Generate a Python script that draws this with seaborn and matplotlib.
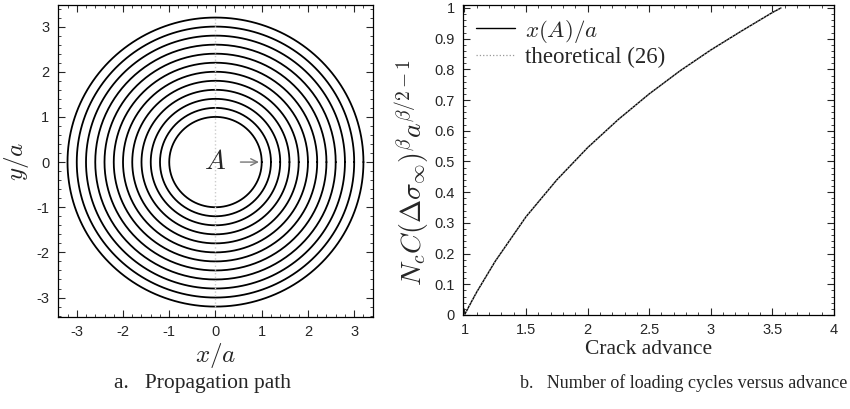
import numpy as np
import pandas as pd
import seaborn as sns
import matplotlib.pyplot as plt
from matplotlib.ticker import MultipleLocator

# crack front radii (panel a)
radii = [1.0, 1.2, 1.4, 1.6, 1.8, 2.0, 2.2, 2.4, 2.6, 2.8, 3.0, 3.2]

# cycles vs crack advance (panel b)
advance = [1.0, 1.05, 1.1, 1.25, 1.5, 1.75, 2.0, 2.25, 2.5, 2.75, 3.0, 3.25, 3.5, 3.57]
cycles = [0.0, 0.038, 0.075, 0.175, 0.32, 0.44, 0.545, 0.637, 0.72, 0.795, 0.863, 0.925, 0.985, 1.0]
theory = [0.0, 0.038, 0.075, 0.175, 0.32, 0.44, 0.545, 0.637, 0.72, 0.795, 0.863, 0.925, 0.985, 1.0]

sns.set_theme(style="ticks")
plt.rcParams['font.family'] = ['Liberation Sans', 'DejaVu Sans']
plt.rcParams['mathtext.fontset'] = 'cm'
plt.rcParams['axes.unicode_minus'] = False
plt.rcParams['xtick.direction'] = 'in'
plt.rcParams['ytick.direction'] = 'in'

fig = plt.figure(figsize=(8.5, 4.09), dpi=100)
ax1 = fig.add_axes([0.068, 0.225, 0.371, 0.763])
ax2 = fig.add_axes([0.545, 0.230, 0.436, 0.758])

# panel a: concentric crack fronts
theta = np.linspace(0, 2 * np.pi, 361)
rows = []
for r in radii:
    for t in theta:
        rows.append((r, r * np.cos(t), r * np.sin(t)))
circles = pd.DataFrame(rows, columns=['r', 'x', 'y'])
sns.lineplot(data=circles, x='x', y='y', units='r', estimator=None, sort=False,
             color='black', lw=1.3, ax=ax1)
ax1.plot([0, 0], [-radii[-1], radii[-1]], ls=':', color='#cccccc', lw=1)
ax1.text(0.0, 0, '$A$', fontsize=20, ha='center', va='center')
ax1.annotate('', xy=(1.0, 0), xytext=(0.48, 0),
             arrowprops=dict(arrowstyle='->', color='#777777', lw=1))
ax1.set_xlim(-3.41, 3.41)
ax1.set_ylim(-3.43, 3.48)
ax1.xaxis.set_major_locator(MultipleLocator(1))
ax1.yaxis.set_major_locator(MultipleLocator(1))
ax1.xaxis.set_minor_locator(MultipleLocator(0.2))
ax1.yaxis.set_minor_locator(MultipleLocator(0.2))
ax1.set_xlabel('$x/a$', fontsize=18, labelpad=1)
ax1.set_ylabel('$y/a$', fontsize=18, labelpad=4)

# panel b: number of cycles
sns.lineplot(x=advance, y=cycles, color='black', lw=1, ax=ax2, label='$x(A)/a$')
sns.lineplot(x=advance, y=theory, color='#999999', lw=0.9, ls=':', ax=ax2,
             label='theoretical (26)')
ax2.set_xlim(0.99, 4.0)
ax2.set_ylim(0, 1.01)
ax2.xaxis.set_minor_locator(MultipleLocator(0.1))
ax2.yaxis.set_minor_locator(MultipleLocator(0.02))
ax2.set_xticks([1, 1.5, 2, 2.5, 3, 3.5, 4])
ax2.set_xticklabels(['1', '1.5', '2', '2.5', '3', '3.5', '4'])
ax2.set_yticks(np.round(np.arange(0, 1.01, 0.1), 1))
ax2.set_yticklabels(['0', '0.1', '0.2', '0.3', '0.4', '0.5', '0.6', '0.7', '0.8', '0.9', '1'])
ax2.set_xlabel('Crack advance', fontsize=15.5, family=['Liberation Serif'], labelpad=2)
ax2.set_ylabel(r'$N_c C(\Delta\sigma_\infty)^\beta a^{\beta/2-1}$', fontsize=20)
ax2.yaxis.set_label_coords(-0.083, 0.46)
leg = ax2.legend(loc='upper left', frameon=False, handlelength=1.7,
                 borderaxespad=0.15, handletextpad=0.45, labelspacing=0.1,
                 prop={'family': ['Liberation Serif'], 'size': 16.5})

for ax in (ax1, ax2):
    ax.tick_params(which='both', top=True, right=True, labelsize=10.5, pad=6)
    ax.tick_params(which='major', length=5, width=0.8)
    ax.tick_params(which='minor', length=2.5, width=0.6)
    for s in ax.spines.values():
        s.set_linewidth(0.9)
        s.set_color('black')

fig.text(0.238, 0.063, 'a.   Propagation path', ha='center', va='center',
         fontsize=15.5, family=['Liberation Serif'])
fig.text(0.612, 0.063, 'b.   Number of loading cycles versus advance', ha='left',
         va='center', fontsize=13, family=['Liberation Serif'])

fig.savefig('out.png', dpi=100)
